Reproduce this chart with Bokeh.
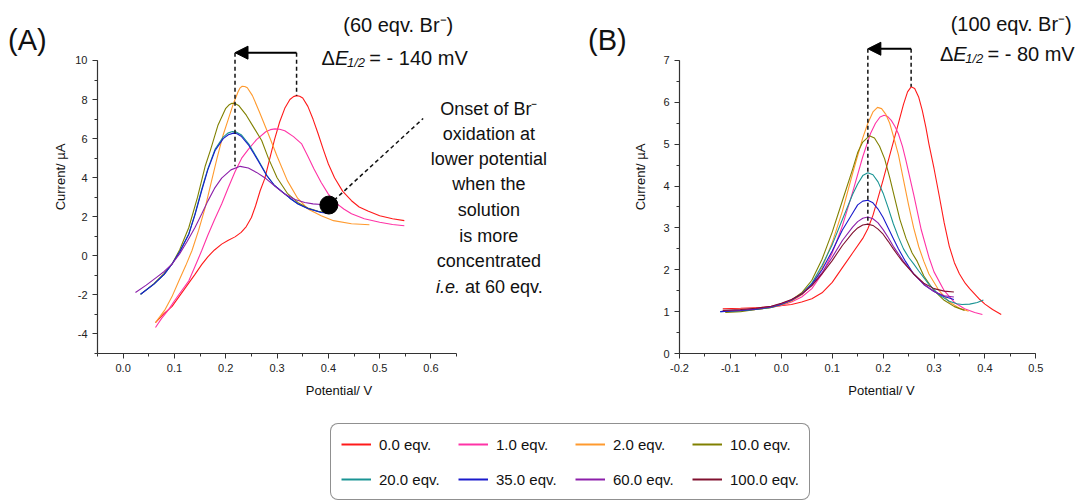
from bokeh.plotting import figure
from bokeh.models import (Range1d, Label, Arrow, NormalHead, Legend, LegendItem, Div,
                          SingleIntervalTicker, PrintfTickFormatter)
from bokeh.layouts import column, row
from bokeh.embed import file_html
from bokeh.resources import INLINE

FONT = "Liberation Sans"

series_names = ["0.0 eqv.", "1.0 eqv.", "2.0 eqv.", "10.0 eqv.",
                "20.0 eqv.", "35.0 eqv.", "60.0 eqv.", "100.0 eqv."]
colors = ["#FF1A1A", "#FF33A6", "#FF9A2E", "#808000",
          "#1A9494", "#1A1ACC", "#8C1FAA", "#80102F"]

# ---------------- Panel A (series 0,1,2,10,20,35,60 eqv.) ----------------
A_x_0 = [0.063, 0.08, 0.095, 0.11, 0.125, 0.14, 0.153, 0.165, 0.178, 0.192, 0.205, 0.218,
         0.23, 0.24, 0.25, 0.258, 0.267, 0.276, 0.285, 0.295, 0.305, 0.315, 0.325, 0.332,
         0.338, 0.344, 0.35, 0.36, 0.37, 0.38, 0.39, 0.40, 0.412, 0.428, 0.445, 0.46, 0.477,
         0.50, 0.525, 0.548]
A_y_0 = [-3.42, -2.95, -2.6, -2.05, -1.5, -0.95, -0.45, -0.05, 0.3, 0.6, 0.8, 0.97,
         1.2, 1.5, 1.96, 2.55, 3.33, 3.95, 4.9, 5.95, 6.85, 7.55, 8.0, 8.15,
         8.2, 8.17, 8.08, 7.65, 7.0, 6.25, 5.45, 4.7, 4.0, 3.3, 2.82, 2.5, 2.3,
         2.05, 1.9, 1.8]

A_x_1 = [0.063, 0.075, 0.089, 0.1, 0.115, 0.128, 0.14, 0.153, 0.165, 0.178, 0.192, 0.205,
         0.218, 0.231, 0.244, 0.26, 0.278, 0.287, 0.296, 0.305, 0.315, 0.332, 0.348, 0.36,
         0.372, 0.386, 0.40, 0.415, 0.43, 0.445, 0.47, 0.50, 0.525, 0.548]
A_y_1 = [-3.67, -3.2, -2.74, -2.3, -1.75, -1.28, -0.55, 0.26, 1.05, 1.85, 2.65, 3.5,
         4.3, 5.0, 5.45, 5.95, 6.35, 6.46, 6.5, 6.48, 6.4, 6.1, 5.73, 5.1,
         4.45, 3.75, 3.16, 2.7, 2.4, 2.15, 1.9, 1.72, 1.6, 1.54]

A_x_2 = [0.063, 0.072, 0.082, 0.095, 0.11, 0.122, 0.134, 0.147, 0.16, 0.172, 0.183, 0.195,
         0.205, 0.215, 0.224, 0.228, 0.232, 0.237, 0.242, 0.252, 0.265, 0.283, 0.30, 0.32,
         0.34, 0.36, 0.386, 0.41, 0.445, 0.48]
A_y_2 = [-3.42, -3.1, -2.74, -2.1, -1.2, -0.5, 0.26, 1.3, 2.48, 3.8, 5.0, 6.2,
         7.0, 7.8, 8.4, 8.6, 8.68, 8.67, 8.6, 8.2, 7.4, 6.24, 5.1, 3.85,
         2.95, 2.4, 2.05, 1.8, 1.64, 1.59]

A_x_10 = [0.034, 0.06, 0.08, 0.095, 0.11, 0.128, 0.145, 0.16, 0.17, 0.185, 0.20, 0.206,
          0.212, 0.218, 0.225, 0.24, 0.255, 0.27, 0.283, 0.30, 0.32, 0.341, 0.36, 0.38, 0.40]
A_y_10 = [-1.97, -1.42, -0.9, -0.43, 0.3, 1.45, 3.0, 4.6, 5.4, 6.7, 7.55, 7.72,
          7.81, 7.8, 7.7, 7.2, 6.55, 5.9, 5.0, 4.0, 3.2, 2.72, 2.45, 2.28, 2.2]

A_x_20 = [0.034, 0.06, 0.08, 0.095, 0.11, 0.128, 0.14, 0.153, 0.165, 0.179, 0.195, 0.204,
          0.213, 0.221, 0.23, 0.245, 0.263, 0.28, 0.295, 0.309, 0.325, 0.341, 0.36, 0.386, 0.40]
A_y_20 = [-1.97, -1.45, -0.95, -0.43, 0.2, 1.13, 2.15, 3.4, 4.45, 5.45, 6.08, 6.28,
          6.36, 6.33, 6.2, 5.72, 4.92, 4.12, 3.6, 3.3, 2.95, 2.65, 2.42, 2.23, 2.2]

A_x_35 = [0.034, 0.06, 0.08, 0.095, 0.11, 0.128, 0.14, 0.153, 0.165, 0.179, 0.195, 0.205,
          0.215, 0.222, 0.23, 0.245, 0.263, 0.28, 0.295, 0.309, 0.325, 0.341, 0.36, 0.386, 0.40]
A_y_35 = [-1.97, -1.45, -0.95, -0.43, 0.2, 1.11, 2.1, 3.33, 4.4, 5.38, 6.0, 6.2,
          6.28, 6.25, 6.12, 5.65, 4.87, 4.1, 3.6, 3.3, 2.95, 2.65, 2.42, 2.22, 2.18]

A_x_60 = [0.024, 0.045, 0.065, 0.08, 0.095, 0.11, 0.125, 0.14, 0.153, 0.165, 0.178, 0.192,
          0.21, 0.228, 0.244, 0.26, 0.276, 0.295, 0.315, 0.335, 0.354, 0.37, 0.386, 0.40]
A_y_60 = [-1.88, -1.5, -1.1, -0.8, -0.43, 0.1, 0.75, 1.45, 2.14, 2.8, 3.45, 3.98,
          4.4, 4.58, 4.5, 4.27, 4.0, 3.58, 3.16, 2.88, 2.73, 2.66, 2.63, 2.6]

# ---------------- Panel B (all series) ----------------
B_x_0 = [-0.115, -0.08, -0.04, -0.01, 0.02, 0.04, 0.06, 0.08, 0.10, 0.12, 0.14, 0.16, 0.17,
         0.18, 0.19, 0.20, 0.21, 0.22, 0.23, 0.24, 0.248, 0.255, 0.262, 0.27, 0.277, 0.284,
         0.29, 0.30, 0.31, 0.32, 0.33, 0.34, 0.35, 0.36, 0.37, 0.38, 0.39, 0.40, 0.415, 0.432]
B_y_0 = [1.07, 1.08, 1.1, 1.13, 1.17, 1.23, 1.31, 1.45, 1.7, 2.05, 2.4, 2.75, 2.98,
         3.3, 3.72, 4.15, 4.6, 5.05, 5.5, 5.95, 6.25, 6.37, 6.33, 6.12, 5.8, 5.4,
         5.0, 4.42, 3.78, 3.12, 2.56, 2.17, 1.9, 1.7, 1.55, 1.42, 1.29, 1.18, 1.05, 0.93]

B_x_1 = [-0.11, -0.08, -0.05, -0.02, 0.0, 0.02, 0.04, 0.06, 0.08, 0.10, 0.12, 0.14, 0.16,
         0.175, 0.185, 0.194, 0.202, 0.209, 0.216, 0.223, 0.23, 0.238, 0.245, 0.26, 0.275,
         0.29, 0.30, 0.32, 0.34, 0.36, 0.38, 0.395]
B_y_1 = [1.0, 1.02, 1.05, 1.1, 1.15, 1.23, 1.35, 1.55, 1.9, 2.4, 3.05, 3.85, 4.7,
         5.25, 5.5, 5.65, 5.69, 5.66, 5.57, 5.43, 5.25, 4.95, 4.6, 3.8, 2.95,
         2.3, 1.95, 1.5, 1.22, 1.07, 0.98, 0.93]

B_x_2 = [-0.11, -0.08, -0.05, -0.02, 0.0, 0.02, 0.04, 0.06, 0.08, 0.10, 0.12, 0.14, 0.16,
         0.17, 0.18, 0.189, 0.197, 0.205, 0.213, 0.22, 0.23, 0.24, 0.25, 0.26, 0.27, 0.28,
         0.29, 0.31, 0.33, 0.35, 0.368]
B_y_2 = [1.0, 1.02, 1.05, 1.1, 1.16, 1.25, 1.4, 1.65, 2.05, 2.65, 3.4, 4.3, 5.15,
         5.5, 5.77, 5.88, 5.85, 5.72, 5.5, 5.2, 4.75, 4.15, 3.55, 3.0, 2.55, 2.2,
         1.9, 1.5, 1.23, 1.08, 1.01]

B_x_10 = [-0.11, -0.08, -0.05, -0.02, 0.0, 0.02, 0.04, 0.06, 0.08, 0.10, 0.12, 0.14, 0.15,
          0.16, 0.173, 0.183, 0.193, 0.203, 0.213, 0.223, 0.233, 0.245, 0.257, 0.267, 0.28,
          0.30, 0.32, 0.34, 0.36]
B_y_10 = [0.98, 1.0, 1.05, 1.1, 1.17, 1.28, 1.45, 1.75, 2.25, 2.9, 3.65, 4.4, 4.8,
          5.05, 5.2, 5.15, 4.95, 4.65, 4.2, 3.7, 3.2, 2.75, 2.4, 2.2, 1.85,
          1.5, 1.27, 1.12, 1.03]

B_x_20 = [-0.12, -0.08, -0.05, -0.02, 0.0, 0.02, 0.04, 0.06, 0.08, 0.10, 0.12, 0.14, 0.15,
          0.16, 0.17, 0.18, 0.19, 0.20, 0.21, 0.22, 0.23, 0.24, 0.25, 0.26, 0.27, 0.29, 0.31,
          0.33, 0.345, 0.355, 0.37, 0.385, 0.397]
B_y_20 = [1.0, 1.02, 1.05, 1.1, 1.17, 1.27, 1.42, 1.68, 2.1, 2.6, 3.2, 3.8, 4.05,
          4.25, 4.32, 4.27, 4.1, 3.83, 3.48, 3.1, 2.78, 2.5, 2.3, 2.14, 1.97, 1.65, 1.4,
          1.25, 1.19, 1.17, 1.18, 1.22, 1.28]

B_x_35 = [-0.12, -0.08, -0.05, -0.02, 0.0, 0.02, 0.04, 0.06, 0.08, 0.10, 0.12, 0.14, 0.15,
          0.16, 0.17, 0.18, 0.19, 0.20, 0.21, 0.22, 0.23, 0.244, 0.26, 0.28, 0.30, 0.32, 0.339]
B_y_35 = [1.0, 1.03, 1.06, 1.11, 1.18, 1.27, 1.42, 1.65, 2.0, 2.45, 2.95, 3.35, 3.55,
          3.64, 3.66, 3.6, 3.45, 3.25, 3.0, 2.75, 2.5, 2.2, 1.9, 1.65, 1.48, 1.36, 1.29]

B_x_60 = [-0.115, -0.08, -0.05, -0.02, 0.0, 0.02, 0.04, 0.06, 0.08, 0.10, 0.12, 0.14, 0.15,
          0.16, 0.17, 0.18, 0.19, 0.20, 0.21, 0.22, 0.23, 0.24, 0.26, 0.28, 0.30, 0.32, 0.339]
B_y_60 = [1.02, 1.04, 1.07, 1.12, 1.19, 1.28, 1.42, 1.63, 1.93, 2.3, 2.7, 3.02, 3.15,
          3.23, 3.26, 3.22, 3.12, 2.96, 2.77, 2.56, 2.38, 2.2, 1.9, 1.65, 1.48, 1.38, 1.35]

B_x_100 = [-0.115, -0.08, -0.05, -0.02, 0.0, 0.02, 0.04, 0.06, 0.08, 0.10, 0.12, 0.14, 0.15,
           0.16, 0.17, 0.18, 0.19, 0.20, 0.21, 0.22, 0.23, 0.238, 0.26, 0.28, 0.30, 0.32, 0.339]
B_y_100 = [1.03, 1.05, 1.08, 1.13, 1.2, 1.29, 1.42, 1.62, 1.9, 2.22, 2.58, 2.88, 3.0,
           3.07, 3.09, 3.06, 2.97, 2.85, 2.68, 2.5, 2.33, 2.2, 1.9, 1.68, 1.55, 1.49, 1.47]

A_series = [(A_x_0, A_y_0, 0), (A_x_1, A_y_1, 1), (A_x_2, A_y_2, 2), (A_x_10, A_y_10, 3),
            (A_x_20, A_y_20, 4), (A_x_35, A_y_35, 5), (A_x_60, A_y_60, 6)]
B_series = [(B_x_0, B_y_0, 0), (B_x_1, B_y_1, 1), (B_x_2, B_y_2, 2), (B_x_10, B_y_10, 3),
            (B_x_20, B_y_20, 4), (B_x_35, B_y_35, 5), (B_x_60, B_y_60, 6), (B_x_100, B_y_100, 7)]

# annotation values
A_shift_left_x = 0.218      # marker position of the 60 eqv. peak
A_arrow_y = 10.4
B_arrow_y = 7.28
onset_point = (0.401, 2.6)

# ---------------- figure geometry ----------------
FH = 353                    # frame height (frame top at canvas top)
A_LEFT, A_FW = 95, 485      # page x of panel A frame, frame width
B_LEFT, B_FW = 675, 408
XA = (-0.05, -0.05 + A_FW / 515.2)
YA = (-5.0, 13.07)
XB = (-0.2, -0.2 + B_FW / 514.1)
YB = (0.0, 8.433)


def style_axes(p, xint, yint, yfmt, ylab_standoff):
    p.grid.visible = False
    p.outline_line_color = None
    p.background_fill_color = "white"
    p.border_fill_color = "white"
    p.xaxis.ticker = SingleIntervalTicker(interval=xint, num_minor_ticks=2)
    p.yaxis.ticker = SingleIntervalTicker(interval=yint, num_minor_ticks=2)
    p.xaxis.formatter = PrintfTickFormatter(format="%.1f")
    p.yaxis.formatter = PrintfTickFormatter(format=yfmt)
    for ax in (p.xaxis[0], p.yaxis[0]):
        ax.axis_line_color = "#333333"
        ax.axis_line_width = 1.2
        ax.major_tick_line_color = "#333333"
        ax.minor_tick_line_color = "#333333"
        ax.major_tick_out = 5
        ax.major_tick_in = 0
        ax.minor_tick_out = 3
        ax.minor_tick_in = 0
        ax.major_label_text_font = FONT
        ax.major_label_text_font_size = "11px"
        ax.major_label_text_color = "#222222"
        ax.axis_label_text_font = FONT
        ax.axis_label_text_font_size = "13px"
        ax.axis_label_text_font_style = "normal"
        ax.axis_label_text_color = "#111111"
    p.xaxis.axis_label = "Potential/ V"
    p.yaxis.axis_label = "Current/ \u00b5A"
    p.xaxis.axis_label_standoff = 8
    p.yaxis.axis_label_standoff = ylab_standoff


pA = figure(width=530, height=408, x_range=Range1d(*XA), y_range=Range1d(*YA),
            toolbar_location=None, output_backend="svg",
            min_border_left=45, min_border_right=0, min_border_top=0, min_border_bottom=55)
style_axes(pA, 0.1, 2, "%d", 4)
pA.xaxis.bounds = (-0.0501, 0.6501)
pA.yaxis.bounds = (-5.0, 10.0)

pB = figure(width=453, height=408, x_range=Range1d(*XB), y_range=Range1d(*YB),
            toolbar_location=None, output_backend="svg",
            min_border_left=45, min_border_right=0, min_border_top=0, min_border_bottom=55)
style_axes(pB, 0.1, 1, "%d", 12)
pB.xaxis.bounds = (-0.2001, 0.5001)
pB.yaxis.bounds = (0.0, 7.0)

for xs, ys, k in A_series:
    pA.line(xs, ys, line_color=colors[k], line_width=1.1)
for xs, ys, k in B_series:
    pB.line(xs, ys, line_color=colors[k], line_width=1.1)


# page-pixel -> data helpers for text placement
def pa_x(X):
    return XA[0] + (X - A_LEFT) / A_FW * (XA[1] - XA[0])


def pa_y(Y):
    return YA[0] + (FH - Y) / FH * (YA[1] - YA[0])


def pb_x(X):
    return XB[0] + (X - B_LEFT) / B_FW * (XB[1] - XB[0])


def pb_y(Y):
    return YB[0] + (FH - Y) / FH * (YB[1] - YB[0])


def lab(p, x, y, text, size, style="normal", align="left", baseline="middle"):
    p.add_layout(Label(x=x, y=y, text=text, text_font=FONT, text_font_size=size,
                       text_font_style=style, text_align=align, text_baseline=baseline,
                       text_color="#111111"))


# ---- Panel A annotations ----
red_peak_A = A_x_0[A_y_0.index(max(A_y_0))]
pA.segment(x0=[red_peak_A, A_shift_left_x], y0=[A_arrow_y, A_arrow_y],
           x1=[red_peak_A, A_shift_left_x], y1=[max(A_y_0), max(A_y_60)],
           line_color="#111111", line_width=1.5, line_dash="4 3")
pA.add_layout(Arrow(end=NormalHead(size=13, fill_color="black", line_color="black"),
                    x_start=red_peak_A, y_start=A_arrow_y, x_end=A_shift_left_x, y_end=A_arrow_y,
                    line_color="black", line_width=2))
pA.segment(x0=[onset_point[0]], y0=[onset_point[1]], x1=[pa_x(422)], y1=[pa_y(118)],
           line_color="#111111", line_width=1.5, line_dash="4 3")
pA.scatter([onset_point[0]], [onset_point[1]], size=18, fill_color="black", line_color="black")

lab(pA, pa_x(397), pa_y(24), "(60 eqv. Br\u207b)", "20px", align="center")
lab(pA, pa_x(320), pa_y(57), "\u0394", "20px", baseline="alphabetic")
lab(pA, pa_x(333.4), pa_y(57), "E", "20px", style="italic", baseline="alphabetic")
lab(pA, pa_x(345.5), pa_y(62), "1/2", "13px", style="italic", baseline="alphabetic")
lab(pA, pa_x(368), pa_y(57), "= - 140 mV", "20px", baseline="alphabetic")

onset_lines = ["Onset of Br\u207b", "oxidation at", "lower potential", "when the",
               "solution", "is more", "concentrated"]
onset_y = [108, 133, 158, 183, 209, 235, 260]
for t, yy in zip(onset_lines, onset_y):
    lab(pA, pa_x(488), pa_y(yy), t, "18px", align="center")
lab(pA, pa_x(459), pa_y(286), "i.e.", "18px", style="italic", align="right")
lab(pA, pa_x(464), pa_y(286), "at 60 eqv.", "18px", align="left")

# ---- Panel B annotations ----
red_peak_B = B_x_0[B_y_0.index(max(B_y_0))]
last_peak_B = B_x_100[B_y_100.index(max(B_y_100))]
pB.segment(x0=[red_peak_B, last_peak_B], y0=[B_arrow_y, B_arrow_y],
           x1=[red_peak_B, last_peak_B], y1=[max(B_y_0), max(B_y_100)],
           line_color="#111111", line_width=1.5, line_dash="4 3")
pB.add_layout(Arrow(end=NormalHead(size=13, fill_color="black", line_color="black"),
                    x_start=red_peak_B, y_start=B_arrow_y, x_end=last_peak_B, y_end=B_arrow_y,
                    line_color="black", line_width=2))

lab(pB, pb_x(1010), pb_y(23), "(100 eqv. Br\u207b)", "20px", align="center")
lab(pB, pb_x(938), pb_y(53), "\u0394", "20px", baseline="alphabetic")
lab(pB, pb_x(951.4), pb_y(53), "E", "20px", style="italic", baseline="alphabetic")
lab(pB, pb_x(963.5), pb_y(58), "1/2", "13px", style="italic", baseline="alphabetic")
lab(pB, pb_x(986), pb_y(53), "= - 80 mV", "20px", baseline="alphabetic")

# ---- panel letters (left of the y axes) ----
def letter(txt):
    return Div(text=('<div style="font-family:\'Liberation Sans\';font-size:29px;'
                     'color:#111;padding:24px 0 0 8px;line-height:1.15">%s</div>' % txt),
               width=50, height=408, margin=0)


divA = letter("(A)")
divB = letter("(B)")

# ---------------- Legend ----------------
pL = figure(width=1083, height=94, x_range=Range1d(0, 1), y_range=Range1d(0, 1),
            x_axis_type=None, y_axis_type=None, toolbar_location=None, output_backend="svg",
            min_border=0)
pL.grid.visible = False
pL.outline_line_color = None
leg_renderers = [pL.line(x=[-2, -1], y=[-2, -2], line_color=c, line_width=2) for c in colors]
items = [LegendItem(label=n, renderers=[r]) for n, r in zip(series_names, leg_renderers)]
legend = Legend(items=items, location=(330, 2), orientation="horizontal", ncols=4,
                label_text_font=FONT, label_text_font_size="15px", label_text_color="#111111",
                glyph_width=30, glyph_height=20, label_height=20, label_width=64,
                label_standoff=8, padding=10, spacing=15,
                border_line_color="#222222", border_line_width=1.2,
                background_fill_color="white", background_fill_alpha=1.0)
if "border_radius" in Legend.properties():
    legend.border_radius = 8
pL.add_layout(legend)

layout = column(row(divA, pA, divB, pB), pL)
open("out.html", "w").write(file_html(layout, INLINE))
